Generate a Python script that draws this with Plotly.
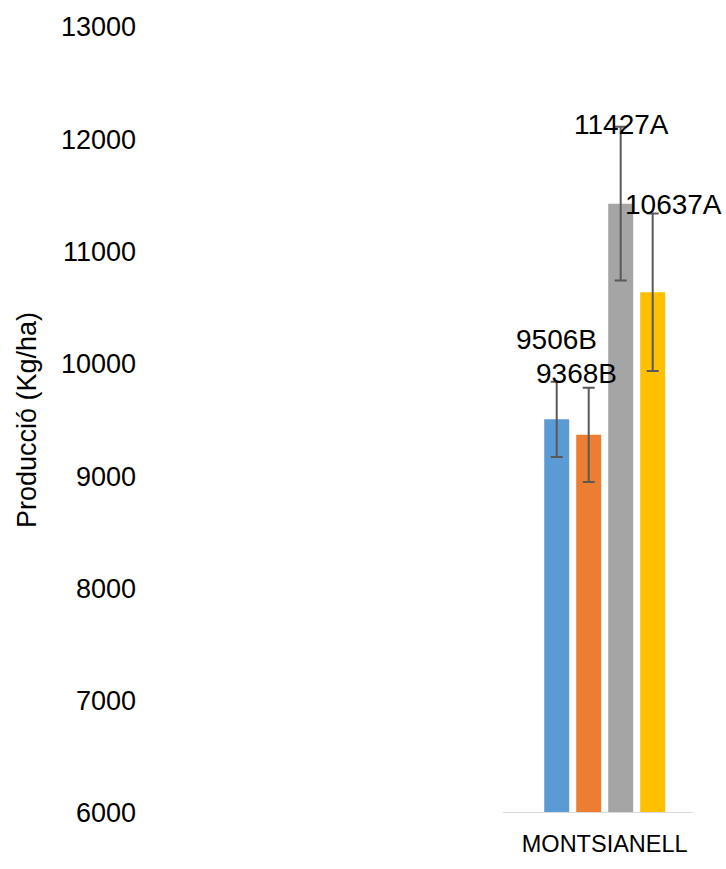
import plotly.graph_objects as go

# ---- data ----
categories = ["MONTSIANELL"]
series_names = ["Sèrie 1", "Sèrie 2", "Sèrie 3", "Sèrie 4"]
values = [9506, 9368, 11427, 10637]
errors = [335, 420, 684, 701]
labels = ["9506B", "9368B", "11427A", "10637A"]
colors = ["#5B9BD5", "#ED7D31", "#A5A5A5", "#FFC000"]
y_ticks = [6000, 7000, 8000, 9000, 10000, 11000, 12000, 13000]
y_tick_text = ["6000", "7000", "8000", "9000", "10000", "11000", "12000", "13000"]

# label placement (pixel shifts from each bar top / category centre)
label_xshift = [-48, -28, 17, 69]
label_yshift = [80, 61, 79, 88]

FONT = "Liberation Sans, Arial, Helvetica, sans-serif"

fig = go.Figure()
for name, v, e, c in zip(series_names, values, errors, colors):
    fig.add_trace(go.Bar(
        x=categories, y=[v], name=name,
        marker=dict(color=c, line=dict(width=0)),
        error_y=dict(type="data", array=[e], visible=True,
                     color="#595959", thickness=2, width=6),
        showlegend=False,
    ))

for lab, v, xs, ys in zip(labels, values, label_xshift, label_yshift):
    fig.add_annotation(x=0, y=v, xref="x", yref="y", text=lab,
                       showarrow=False, xshift=xs, yshift=ys,
                       font=dict(family=FONT, size=28, color="#000000"))

# x-axis baseline (only under the category)
fig.add_shape(type="line", xref="x", yref="y",
              x0=-0.527, x1=0.4575, y0=6000, y1=6000,
              line=dict(color="#D9D9D9", width=2))

fig.update_layout(
    width=726, height=869,
    margin=dict(l=137, r=21, t=21.5, b=45),
    paper_bgcolor="white", plot_bgcolor="white",
    barmode="group", bargap=0.337, bargroupgap=0.219,
    hovermode=False,
    font=dict(family=FONT, color="#000000"),
    xaxis=dict(range=[-2.4233, 0.5197], showgrid=False, showline=False,
               zeroline=False, ticks="", tickfont=dict(size=23.5),
               ticklabelstandoff=14),
    yaxis=dict(range=[6000, 13000], tickvals=y_ticks, ticktext=y_tick_text,
               showgrid=False, showline=False, zeroline=False, ticks="",
               ticklabeloverflow="allow",
               tickfont=dict(size=27),
               title=dict(text="Producció (Kg/ha)", font=dict(size=27),
                          standoff=16)),
)

# remove the browser's default 8px body margin so the figure fills the window
fig.write_html("out.html",
               config={"displayModeBar": False},
               post_script="document.body.style.margin='0';")
